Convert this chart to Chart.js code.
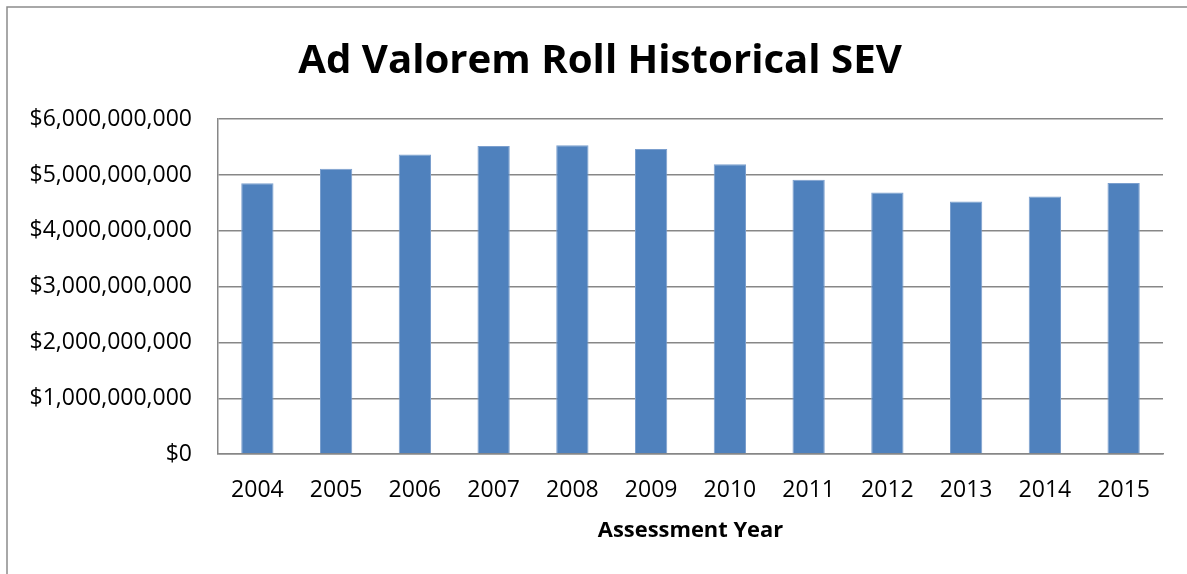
<!DOCTYPE html>
<html>
<head>
<meta charset="utf-8">
<script src="https://cdn.jsdelivr.net/npm/chart.js@4"></script>
<style>
  html, body { margin: 0; padding: 0; background: #ffffff; }
  #wrap { position: absolute; left: 0; top: 0; width: 1187px; height: 574px; }
</style>
</head>
<body>
<div id="wrap"><canvas id="c" width="1187" height="574"></canvas></div>
<script>
// ---- Data ----
const titleText = 'Ad Valorem Roll Historical SEV';
const xAxisTitle = 'Assessment Year';
const years = ['2004','2005','2006','2007','2008','2009','2010','2011','2012','2013','2014','2015'];
const sevValues = [4851000000, 5115000000, 5367000000, 5522000000, 5534000000, 5468000000,
                   5192000000, 4917000000, 4689000000, 4527000000, 4617000000, 4856000000];
const yMin = 0;
const yMax = 6000000000;
const yStep = 1000000000;

// ---- Style helpers ----
const FONT = "'Open Sans', 'DejaVu Sans', sans-serif";
function fitSize(text, weight, targetWidth) {
  const ctx = document.createElement('canvas').getContext('2d');
  ctx.font = weight + ' 100px ' + FONT;
  return Math.round(100 * targetWidth / ctx.measureText(text).width * 10) / 10;
}

const frame = {
  id: 'frame',
  beforeDraw(chart) {
    const ctx = chart.ctx;
    ctx.save();
    ctx.strokeStyle = '#8c8c8c';
    ctx.lineWidth = 1.5;
    ctx.beginPath();
    ctx.moveTo(7, 574);
    ctx.lineTo(7, 7);
    ctx.lineTo(1187, 7);
    ctx.stroke();
    ctx.restore();
  }
};

document.fonts.load("bold 20px 'Open Sans'").then(() => document.fonts.load("20px 'Open Sans'")).finally(() => {
  const titleSize = fitSize(titleText, 'bold', 604);
  const axisTitleSize = fitSize(xAxisTitle, 'bold', 185);

  new Chart(document.getElementById('c'), {
    type: 'bar',
    data: {
      labels: years,
      datasets: [{
        data: sevValues,
        backgroundColor: '#4f81bd',
        borderColor: '#7b9fce',
        borderWidth: 1,
        barPercentage: 0.41,
        categoryPercentage: 1.0
      }]
    },
    options: {
      responsive: false,
      animation: false,
      devicePixelRatio: 1,
      layout: { padding: { left: 37, right: 24, top: 37, bottom: 30 } },
      plugins: {
        legend: { display: false },
        tooltip: { enabled: false },
        title: {
          display: true,
          text: titleText,
          color: '#000000',
          font: { family: FONT, size: titleSize, weight: 'bold', lineHeight: 1.2 },
          padding: { top: 0, bottom: 34 }
        }
      },
      scales: {
        x: {
          grid: { display: false, drawTicks: false },
          border: { display: true, color: '#878787', width: 1.5 },
          ticks: { color: '#000000', font: { family: FONT, size: 23 }, padding: 23, maxRotation: 0 },
          title: {
            display: true,
            text: xAxisTitle,
            color: '#000000',
            font: { family: FONT, size: axisTitleSize, weight: 'bold', lineHeight: 1.2 },
            padding: { top: -10, bottom: 0 }
          }
        },
        y: {
          min: yMin,
          max: yMax,
          afterFit(scale) {
            scale.width = 181;
            scale._computeLabelArea = () => undefined;
          },
          grid: { color: '#878787', lineWidth: 1.5, drawTicks: false },
          border: { display: true, color: '#878787', width: 1.5 },
          ticks: {
            stepSize: yStep,
            color: '#000000',
            font: { family: FONT, size: 23 },
            padding: 26,
            callback: (v) => '$' + Number(v).toLocaleString('en-US')
          }
        }
      }
    },
    plugins: [frame]
  });
});
</script>
</body>
</html>
